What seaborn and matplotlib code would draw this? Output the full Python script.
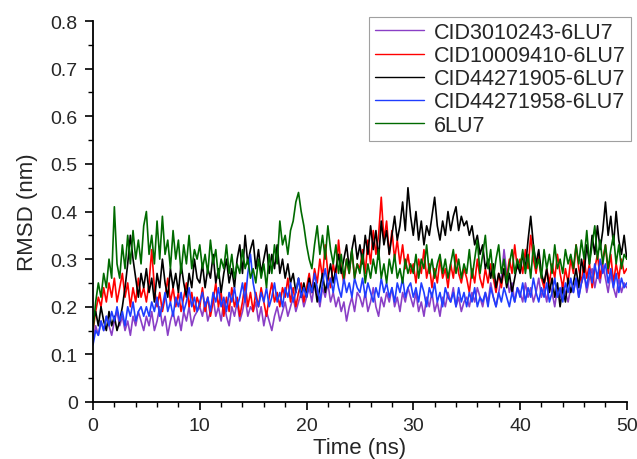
import numpy as np
import pandas as pd
import matplotlib
matplotlib.use("Agg")
import matplotlib.pyplot as plt
import seaborn as sns
from matplotlib.lines import Line2D
from matplotlib.ticker import MultipleLocator

# -------------------- DATA (0.25 ns steps) --------------------
time_ns = np.arange(0, 50.001, 0.25)

cid3010243 = [
    0.13, 0.16, 0.14, 0.17, 0.15, 0.18, 0.16, 0.14, 0.17, 0.19, 0.16, 0.18, 0.15, 0.17, 0.14, 0.18, 0.16, 0.19, 0.17, 0.15,
    0.18, 0.16, 0.19, 0.15, 0.17, 0.20, 0.16, 0.18, 0.14, 0.17, 0.19, 0.16, 0.18, 0.15, 0.19, 0.17, 0.20, 0.16, 0.18, 0.19,
    0.20, 0.18, 0.21, 0.17, 0.19, 0.22, 0.18, 0.20, 0.17, 0.21, 0.18, 0.16, 0.20, 0.18, 0.21, 0.17, 0.19, 0.22, 0.18, 0.20,
    0.19, 0.21, 0.17, 0.20, 0.16, 0.19, 0.17, 0.15, 0.18, 0.20, 0.17, 0.19, 0.21, 0.18, 0.20, 0.22, 0.19, 0.21, 0.23, 0.20,
    0.22, 0.24, 0.21, 0.25, 0.23, 0.20, 0.24, 0.22, 0.25, 0.21, 0.23, 0.20, 0.22, 0.19, 0.21, 0.17, 0.20, 0.22, 0.19, 0.23,
    0.22, 0.20, 0.23, 0.19, 0.21, 0.24, 0.20, 0.18, 0.22, 0.20, 0.23, 0.21, 0.24, 0.20, 0.22, 0.19, 0.23, 0.21, 0.24, 0.22,
    0.20, 0.23, 0.19, 0.21, 0.18, 0.22, 0.20, 0.23, 0.19, 0.21, 0.18, 0.22, 0.20, 0.23, 0.21, 0.24, 0.20, 0.22, 0.19, 0.21,
    0.22, 0.20, 0.23, 0.21, 0.24, 0.22, 0.20, 0.23, 0.21, 0.25, 0.22, 0.20, 0.23, 0.26, 0.32, 0.27, 0.23, 0.25, 0.21, 0.24,
    0.23, 0.21, 0.25, 0.22, 0.24, 0.21, 0.23, 0.26, 0.22, 0.24, 0.21, 0.25, 0.23, 0.20, 0.24, 0.22, 0.25, 0.23, 0.21, 0.24,
    0.23, 0.26, 0.22, 0.25, 0.27, 0.23, 0.26, 0.28, 0.24, 0.27, 0.25, 0.29, 0.26, 0.23, 0.27, 0.24, 0.22, 0.26, 0.23, 0.25,
    0.24,
]

cid10009410 = [
    0.15, 0.19, 0.22, 0.20, 0.24, 0.21, 0.25, 0.22, 0.26, 0.21, 0.24, 0.27, 0.22, 0.25, 0.20, 0.24, 0.21, 0.26, 0.22, 0.24,
    0.21, 0.25, 0.32, 0.24, 0.20, 0.23, 0.19, 0.22, 0.26, 0.21, 0.24, 0.20, 0.23, 0.19, 0.22, 0.25, 0.20, 0.23, 0.19, 0.22,
    0.20, 0.24, 0.19, 0.22, 0.18, 0.21, 0.25, 0.20, 0.23, 0.18, 0.22, 0.19, 0.24, 0.20, 0.22, 0.18, 0.21, 0.25, 0.20, 0.23,
    0.19, 0.23, 0.20, 0.24, 0.21, 0.18, 0.22, 0.25, 0.21, 0.23, 0.20, 0.24, 0.22, 0.26, 0.21, 0.24, 0.20, 0.23, 0.25, 0.21,
    0.24, 0.27, 0.23, 0.28, 0.25, 0.30, 0.26, 0.33, 0.27, 0.24, 0.29, 0.26, 0.34, 0.28, 0.25, 0.30, 0.27, 0.32, 0.26, 0.29,
    0.28, 0.32, 0.27, 0.34, 0.29, 0.36, 0.31, 0.35, 0.43, 0.34, 0.38, 0.31, 0.36, 0.30, 0.34, 0.29, 0.33, 0.28, 0.31, 0.27,
    0.29, 0.25, 0.30, 0.27, 0.32, 0.26, 0.29, 0.24, 0.28, 0.25, 0.30, 0.26, 0.28, 0.24, 0.29, 0.26, 0.31, 0.27, 0.25, 0.28,
    0.26, 0.23, 0.28, 0.25, 0.30, 0.26, 0.24, 0.28, 0.25, 0.29, 0.26, 0.23, 0.27, 0.24, 0.28, 0.26, 0.30, 0.27, 0.33, 0.28,
    0.30, 0.27, 0.32, 0.28, 0.35, 0.30, 0.27, 0.31, 0.26, 0.24, 0.28, 0.25, 0.29, 0.26, 0.31, 0.27, 0.24, 0.28, 0.25, 0.30,
    0.27, 0.33, 0.28, 0.25, 0.30, 0.26, 0.29, 0.24, 0.28, 0.31, 0.26, 0.30, 0.33, 0.27, 0.31, 0.25, 0.29, 0.26, 0.30, 0.27,
    0.28,
]

cid44271905 = [
    0.17, 0.19, 0.16, 0.20, 0.17, 0.15, 0.19, 0.16, 0.18, 0.15, 0.17, 0.20, 0.24, 0.29, 0.35, 0.30, 0.26, 0.22, 0.27, 0.24,
    0.28, 0.23, 0.26, 0.21, 0.27, 0.24, 0.30, 0.25, 0.22, 0.28, 0.24, 0.27, 0.23, 0.29, 0.25, 0.22, 0.27, 0.24, 0.30, 0.26,
    0.25, 0.29, 0.24, 0.28, 0.26, 0.31, 0.25, 0.28, 0.23, 0.27, 0.30, 0.25, 0.28, 0.24, 0.30, 0.33, 0.27, 0.35, 0.29, 0.32,
    0.34, 0.28, 0.32, 0.27, 0.30, 0.33, 0.27, 0.31, 0.28, 0.33, 0.27, 0.30, 0.26, 0.29, 0.25, 0.27, 0.23, 0.26, 0.22, 0.25,
    0.22, 0.26, 0.23, 0.25, 0.21, 0.24, 0.27, 0.23, 0.26, 0.29, 0.25, 0.28, 0.31, 0.27, 0.30, 0.33, 0.28, 0.32, 0.35, 0.30,
    0.33, 0.29, 0.35, 0.31, 0.37, 0.32, 0.36, 0.30, 0.38, 0.33, 0.36, 0.31, 0.35, 0.39, 0.34, 0.37, 0.42, 0.36, 0.45, 0.39,
    0.35, 0.40, 0.34, 0.38, 0.33, 0.37, 0.35, 0.39, 0.43, 0.37, 0.34, 0.38, 0.35, 0.40, 0.36, 0.39, 0.41, 0.36, 0.39, 0.37,
    0.38, 0.35, 0.37, 0.33, 0.35, 0.31, 0.33, 0.28, 0.30, 0.26, 0.29, 0.24, 0.27, 0.25, 0.28, 0.24, 0.27, 0.23, 0.26, 0.29,
    0.27, 0.31, 0.28, 0.34, 0.39, 0.33, 0.29, 0.32, 0.27, 0.25, 0.28, 0.23, 0.26, 0.22, 0.25, 0.20, 0.24, 0.21, 0.26, 0.23,
    0.25, 0.28, 0.24, 0.30, 0.27, 0.33, 0.29, 0.35, 0.31, 0.37, 0.32, 0.36, 0.42, 0.35, 0.39, 0.33, 0.40, 0.34, 0.31, 0.35,
    0.30,
]

cid44271958 = [
    0.12, 0.15, 0.14, 0.17, 0.15, 0.18, 0.16, 0.19, 0.17, 0.20, 0.17, 0.19, 0.16, 0.20, 0.18, 0.21, 0.17, 0.19, 0.20, 0.18,
    0.20, 0.18, 0.21, 0.19, 0.22, 0.18, 0.20, 0.23, 0.19, 0.21, 0.18, 0.22, 0.20, 0.23, 0.19, 0.21, 0.24, 0.20, 0.22, 0.19,
    0.21, 0.23, 0.20, 0.22, 0.19, 0.23, 0.21, 0.24, 0.20, 0.22, 0.19, 0.23, 0.21, 0.24, 0.20, 0.22, 0.25, 0.21, 0.27, 0.31,
    0.25, 0.22, 0.20, 0.23, 0.21, 0.24, 0.20, 0.22, 0.25, 0.21, 0.23, 0.20, 0.24, 0.22, 0.25, 0.21, 0.23, 0.26, 0.22, 0.24,
    0.22, 0.25, 0.23, 0.27, 0.24, 0.21, 0.25, 0.28, 0.24, 0.26, 0.23, 0.27, 0.24, 0.22, 0.26, 0.23, 0.25, 0.22, 0.26, 0.24,
    0.23, 0.26, 0.22, 0.25, 0.23, 0.21, 0.24, 0.22, 0.26, 0.23, 0.25, 0.22, 0.24, 0.21, 0.25, 0.23, 0.26, 0.22, 0.24, 0.25,
    0.22, 0.24, 0.21, 0.25, 0.23, 0.20, 0.24, 0.22, 0.25, 0.21, 0.23, 0.20, 0.24, 0.22, 0.21, 0.23, 0.20, 0.24, 0.21, 0.23,
    0.20, 0.23, 0.21, 0.24, 0.20, 0.22, 0.21, 0.23, 0.20, 0.24, 0.22, 0.20, 0.23, 0.21, 0.24, 0.22, 0.20, 0.23, 0.21, 0.24,
    0.22, 0.25, 0.21, 0.24, 0.22, 0.26, 0.23, 0.21, 0.24, 0.22, 0.25, 0.21, 0.23, 0.26, 0.22, 0.24, 0.21, 0.25, 0.23, 0.26,
    0.23, 0.26, 0.22, 0.25, 0.27, 0.24, 0.28, 0.25, 0.29, 0.26, 0.30, 0.27, 0.29, 0.25, 0.28, 0.24, 0.27, 0.23, 0.26, 0.24,
    0.25,
]

lu7 = [
    0.15, 0.21, 0.25, 0.22, 0.27, 0.24, 0.30, 0.26, 0.41, 0.29, 0.26, 0.33, 0.28, 0.35, 0.29, 0.36, 0.30, 0.34, 0.29, 0.37,
    0.40, 0.31, 0.35, 0.29, 0.38, 0.30, 0.39, 0.31, 0.34, 0.28, 0.36, 0.30, 0.34, 0.27, 0.33, 0.29, 0.35, 0.28, 0.32, 0.30,
    0.33, 0.28, 0.31, 0.27, 0.34, 0.29, 0.32, 0.26, 0.30, 0.28, 0.33, 0.27, 0.31, 0.26, 0.29, 0.27, 0.32, 0.28, 0.30, 0.26,
    0.28, 0.25, 0.30, 0.26, 0.29, 0.24, 0.31, 0.27, 0.33, 0.29, 0.38, 0.33, 0.35, 0.31, 0.36, 0.38, 0.42, 0.44, 0.40, 0.37,
    0.33, 0.30, 0.28, 0.33, 0.37, 0.31, 0.35, 0.30, 0.37, 0.32, 0.29, 0.33, 0.27, 0.31, 0.26, 0.30, 0.27, 0.32, 0.26, 0.29,
    0.27, 0.31, 0.25, 0.29, 0.26, 0.30, 0.27, 0.32, 0.26, 0.29, 0.25, 0.30, 0.27, 0.31, 0.26, 0.28, 0.25, 0.30, 0.27, 0.29,
    0.27, 0.31, 0.26, 0.30, 0.28, 0.33, 0.27, 0.30, 0.26, 0.29, 0.31, 0.27, 0.30, 0.26, 0.29, 0.32, 0.27, 0.30, 0.26, 0.29,
    0.27, 0.32, 0.26, 0.30, 0.34, 0.27, 0.31, 0.35, 0.28, 0.32, 0.26, 0.30, 0.33, 0.27, 0.30, 0.25, 0.29, 0.32, 0.27, 0.30,
    0.28, 0.32, 0.27, 0.31, 0.26, 0.33, 0.28, 0.30, 0.26, 0.32, 0.28, 0.31, 0.27, 0.33, 0.28, 0.30, 0.27, 0.32, 0.29, 0.31,
    0.28, 0.33, 0.29, 0.34, 0.30, 0.36, 0.29, 0.33, 0.37, 0.30, 0.34, 0.29, 0.33, 0.28, 0.32, 0.35, 0.29, 0.33, 0.28, 0.31,
    0.30,
]

labels = ["CID3010243-6LU7", "CID10009410-6LU7", "CID44271905-6LU7", "CID44271958-6LU7", "6LU7"]
colors = ["#8a3fc6", "#ff0000", "#000000", "#1f3dff", "#006a00"]
series = [cid3010243, cid10009410, cid44271905, cid44271958, lu7]

# -------------------- TIDY TABLE --------------------
frames = []
for name, vals in zip(labels, series):
    assert len(vals) == len(time_ns), (name, len(vals))
    frames.append(pd.DataFrame({"time": time_ns, "rmsd": vals, "system": name}))
df = pd.concat(frames, ignore_index=True)

# -------------------- PLOT --------------------
sns.set_style("ticks")
plt.rcParams["font.family"] = ["Liberation Sans", "DejaVu Sans"]

fig = plt.figure(figsize=(6.37, 4.6), dpi=100)
ax = fig.add_axes([0.146, 0.124, 0.838, 0.828])

sns.lineplot(data=df, x="time", y="rmsd", hue="system", hue_order=labels,
             palette=dict(zip(labels, colors)), estimator=None, sort=False,
             linewidth=1.2, legend=False, ax=ax)

ax.set_xlim(0, 50)
ax.set_ylim(0, 0.8)
ax.xaxis.set_major_locator(MultipleLocator(10))
ax.xaxis.set_minor_locator(MultipleLocator(2))
ax.yaxis.set_major_locator(MultipleLocator(0.1))
ax.yaxis.set_minor_locator(MultipleLocator(0.05))
ax.yaxis.set_major_formatter(plt.FuncFormatter(lambda v, p: "0" if abs(v) < 1e-9 else f"{v:.1f}"))

ax.tick_params(which="major", direction="out", length=6, width=1.2, labelsize=14, pad=5, color="black")
ax.tick_params(which="minor", direction="out", length=3.5, width=1.0, color="black")
for side in ["left", "bottom"]:
    ax.spines[side].set_linewidth(1.3)
    ax.spines[side].set_color("black")
sns.despine(ax=ax)

ax.set_xlabel("Time (ns)", fontsize=16, labelpad=2)
ax.set_ylabel("RMSD (nm)", fontsize=16, labelpad=9)

# legend with thin line samples
handles = [Line2D([], [], color=c, linewidth=1.0) for c in colors]
leg = ax.legend(handles, labels, loc="upper right", bbox_to_anchor=(1.008, 1.012),
                fontsize=15.5, frameon=True, fancybox=False, edgecolor="#888888",
                borderaxespad=0, handlelength=2.3, handletextpad=0.45,
                labelspacing=0.1, borderpad=0.25)
leg.get_frame().set_linewidth(0.8)

fig.savefig("out.png", dpi=100)
